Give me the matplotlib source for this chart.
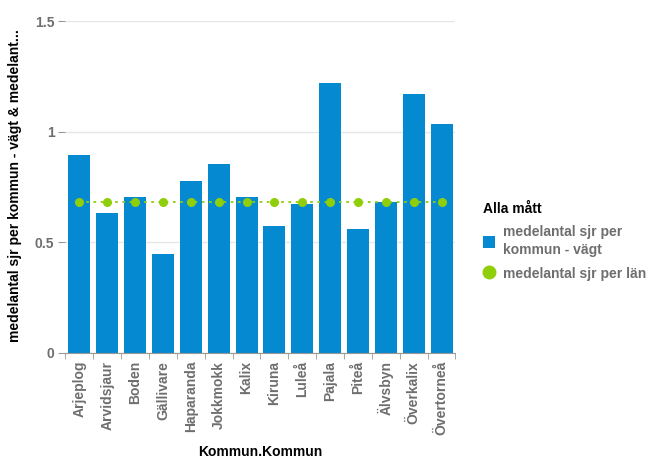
import numpy as np
import matplotlib.pyplot as plt
from matplotlib.lines import Line2D
from matplotlib.patches import Patch

plt.rcParams['font.family'] = ['Liberation Sans', 'DejaVu Sans']

kommuner = ['Arjeplog', 'Arvidsjaur', 'Boden', 'Gällivare', 'Haparanda', 'Jokkmokk', 'Kalix',
            'Kiruna', 'Luleå', 'Pajala', 'Piteå', 'Älvsbyn', 'Överkalix', 'Övertorneå']
vagt = [0.896, 0.633, 0.706, 0.448, 0.778, 0.854, 0.706, 0.573, 0.671, 1.219, 0.557, 0.679, 1.172, 1.035]
lan = [0.680] * len(kommuner)

blue = '#0589d0'
green = '#8fcf0a'
grey = '#6e6e6e'

fig = plt.figure(figsize=(6.51, 4.59), dpi=100)
ax = fig.add_axes([0.1006, 0.232, 0.599, 0.722])

x = np.arange(len(kommuner))
ax.bar(x, vagt, width=0.79, color=blue, zorder=2)
ax.plot(x, lan, linestyle=(0, (1.5, 2.5)), color=green, linewidth=1.3, zorder=3)
ax.plot(x, lan, 'o', color=green, markersize=5.5, zorder=4)

ax.set_xlim(-0.5, 13.5)
ax.set_ylim(0, 1.5)
ax.set_yticks([0, 0.5, 1, 1.5])
ax.set_yticklabels(['0', '0.5', '1', '1.5'])
ax.yaxis.grid(True, color='#e6e6e6', linewidth=1, zorder=0)
ax.set_axisbelow(True)

ax.set_xticks(x)
ax.set_xticklabels(kommuner, rotation=90)
ax.set_xticks(np.arange(-0.5, 14, 1), minor=True)
ax.tick_params(axis='x', which='major', length=0, pad=6)
ax.tick_params(axis='x', which='minor', length=4, color='#999999')
ax.tick_params(axis='y', length=5, color='#999999', pad=3)
for lab in ax.get_xticklabels() + ax.get_yticklabels():
    lab.set_fontweight('bold')
    lab.set_color(grey)
    lab.set_fontsize(10)

for s in ['top', 'right', 'left']:
    ax.spines[s].set_visible(False)
ax.spines['bottom'].set_color('#999999')

fig.text(15 / 651, 1 - 186 / 459, 'medelantal sjr per kommun - vägt & medelant...', rotation=90,
         fontsize=10, fontweight='bold', ha='center', va='center')
fig.text(260 / 651, 1 - 452 / 459, 'Kommun.Kommun', fontsize=10, fontweight='bold',
         ha='center', va='center')

handles = [Patch(facecolor=blue, edgecolor='none'),
           Line2D([], [], marker='o', color=green, linestyle='none', markersize=9)]
leg = fig.legend(handles, ['medelantal sjr per\nkommun - vägt', 'medelantal sjr per län'],
                 loc='upper left', bbox_to_anchor=(0.722, 0.588), frameon=False,
                 title='Alla mått', alignment='left', handlelength=0.9, handleheight=1.0,
                 handletextpad=0.6, labelspacing=0.7, prop={'size': 10, 'weight': 'bold'})
leg.get_title().set_fontweight('bold')
leg.get_title().set_fontsize(10)
for t in leg.get_texts():
    t.set_color(grey)
    t.set_linespacing(1.35)

fig.savefig('out.png', dpi=100)
